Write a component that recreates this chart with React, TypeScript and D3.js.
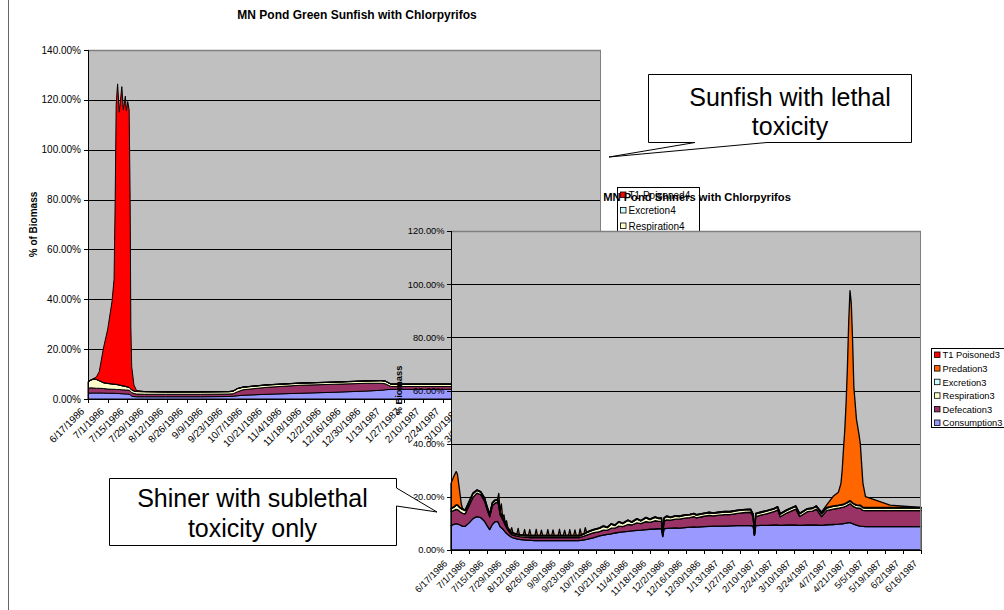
import React from 'react';
import * as d3 from 'd3';

const FONT = "'Liberation Sans', Arial, Helvetica, sans-serif";

const dateLabels = ['6/17/1986','7/1/1986','7/15/1986','7/29/1986','8/12/1986','8/26/1986','9/9/1986','9/23/1986','10/7/1986','10/21/1986','11/4/1986','11/18/1986','12/2/1986','12/16/1986','12/30/1986','1/13/1987','1/27/1987','2/10/1987','2/24/1987','3/10/1987','3/24/1987','4/7/1987','4/21/1987','5/5/1987','5/19/1987','6/2/1987','6/16/1987'];
const sunYTicks = [0, 20, 40, 60, 80, 100, 120, 140];
const shYTicks = [0, 20, 40, 60, 80, 100, 120];

// Sunfish (chart 1) — day offsets from 6/17/1986, values in % of biomass
const sunDays = [0,2,4,6,8,11,14,17,18.5,19.3,20,21,22.2,24,25.1,26.5,27.2,28.2,29.2,29.9,30.4,31,32.6,34.5,40,55,80,100,103,106,110,127,150,174,198,208,211,215,260,364];
const sunConsumption = [2.3,2.4,2.4,2.4,2.4,2.4,2.3,2.3,2.3,2.3,2.2,2.2,2.2,2.1,2.1,2.0,2.0,2.0,1.9,1.7,1.5,1.2,1.0,0.9,0.9,0.9,0.9,1.0,1.1,1.3,1.5,1.9,2.3,2.7,3.2,3.5,3.7,3.9,3.9,3.9];
const sunDefecation = [2.0,2.1,2.0,1.9,1.9,1.8,1.7,1.6,1.6,1.6,1.6,1.6,1.6,1.6,1.6,1.6,1.6,1.6,1.6,1.5,1.5,1.4,1.2,1.1,1.0,1.0,1.0,1.0,1.0,1.6,2.2,2.8,3.2,3.2,3.1,2.8,2.4,1.1,1.1,1.1];
const sunRespiration = [2.6,3.0,3.6,3.5,3.0,2.3,2.2,2.1,2.0,2.0,2.0,1.9,1.8,1.6,1.5,1.5,1.3,1.2,1.1,1.0,1.0,1.0,1.0,1.0,1.0,0.9,0.9,0.9,1.0,1.2,1.0,0.9,0.8,0.8,0.9,1.0,1.0,0.9,0.9,0.9];
const sunExcretion = [0.1,0.1,0.1,0.1,0.1,0.1,0.1,0.1,0.1,0.1,0.1,0.1,0.1,0.1,0.1,0.1,0.1,0.1,0.1,0.1,0.1,0.1,0.1,0.1,0.1,0.1,0.1,0.1,0.1,0.1,0.1,0.1,0.1,0.1,0.1,0.1,0.1,0.1,0.1,0.1];
const sunPoisoned = [0,0,0.1,1.0,3.6,13.9,21.7,32.9,42,74,112.1,120.6,109.3,119.9,110.7,116.3,110.5,114.4,111.3,75.7,24.9,9.3,2.3,0.3,0,0,0,0,0,0,0,0,0,0,0,0,0,0,0,0];

// Shiners (chart 2)
const shDays = [0,2,4,5,7,8,9,11,14,17,20,23,26,28,30,32,34,36,37,38,39,40,41,42,43,44,46,47,48,51,52,53,56,57,58,60,61,62,65,66,67,69,70,71,74,75,76,78,79,80,83,84,85,87,88,89,91,92,93,95,96,97,99,100,101,103,104,105,110,115,118,121,124,127,130,133,137,140,144,147,151,154,158,161,163,164,165,167,170,174,177,181,185,188,190,196,200,203,208,212,216,222,228,232,234,235,236,240,245,250,253,255,260,267,270,276,280,283,287,291,296,300,302,303,304,305,306,307,308,309,310,311,312,314,316,317,319,321,340,364];
const shConsumption = [9.2,9.6,9.9,9.8,9.4,9.2,9.0,8.9,10.2,11.8,12.6,12.2,10.8,9.2,7.7,9.6,10.6,10.8,10.0,8.8,8.4,8.0,7.4,6.8,6.3,5.8,5.1,4.8,4.6,4.2,4.1,4.0,3.8,3.8,3.7,3.7,3.6,3.6,3.5,3.5,3.5,3.5,3.5,3.5,3.5,3.5,3.5,3.5,3.5,3.5,3.5,3.5,3.5,3.5,3.5,3.5,3.5,3.5,3.5,3.5,3.5,3.5,3.5,3.6,3.6,3.8,3.9,4.0,4.6,5.3,5.6,5.9,6.1,6.4,6.6,6.8,7.0,7.2,7.4,7.5,7.7,7.8,7.9,8.0,8.0,5.0,8.0,8.1,8.2,8.3,8.2,8.4,8.6,8.7,8.6,8.8,8.9,9.0,9.0,9.0,9.1,9.2,9.2,9.2,9.0,5.5,9.2,9.3,9.3,9.4,9.4,9.3,9.4,9.4,9.3,9.4,9.4,9.4,9.3,9.5,9.6,9.7,9.8,9.8,9.9,10.0,10.1,10.2,10.3,10.3,10.1,9.9,9.7,9.4,9.1,9.0,8.9,8.8,8.8,8.8];
const shDefecation = [5.3,5.2,5.4,5.4,5.0,4.9,4.8,4.7,6.5,8.0,8.8,8.6,7.6,6.0,4.8,7.0,7.0,7.2,6.8,4.5,4.0,3.5,3.0,2.5,2.1,1.8,1.2,1.0,1.0,1.0,1.0,1.0,1.1,1.1,1.1,1.1,1.1,1.1,1.2,1.2,1.2,1.2,1.2,1.2,1.2,1.2,1.2,1.2,1.2,1.2,1.2,1.2,1.2,1.2,1.2,1.2,1.2,1.2,1.2,1.2,1.2,1.2,1.2,1.2,1.3,1.4,1.5,1.6,1.8,1.6,1.9,1.5,2.1,1.8,2.4,2.0,2.6,2.2,2.8,2.4,3.0,2.6,3.1,2.8,2.9,0.8,2.9,3.2,3.0,3.3,3.4,3.6,3.6,3.9,3.5,3.9,4.1,3.8,4.1,4.3,4.2,4.6,4.9,5.0,3.5,0.2,3.4,3.8,4.4,5.0,5.7,3.2,4.5,6.0,3.3,5.0,5.2,6.0,3.3,5.3,5.8,6.0,6.1,6.2,6.2,6.3,6.4,6.6,6.8,7.1,6.9,6.7,6.6,6.4,6.6,6.7,6.0,6.0,6.0,6.0];
const shRespiration = [1.0,1.2,1.5,1.6,1.4,1.4,1.5,1.2,1.3,1.4,1.0,1.0,1.0,0.9,0.8,1.0,1.0,0.8,0.8,0.7,0.7,0.6,0.6,0.6,0.6,0.6,0.6,0.6,0.6,0.6,0.6,0.6,0.6,0.6,0.6,0.6,0.6,0.6,0.6,0.6,0.6,0.6,0.6,0.6,0.6,0.6,0.6,0.6,0.6,0.6,0.6,0.6,0.6,0.6,0.6,0.6,0.6,0.6,0.6,0.6,0.6,0.6,0.6,0.6,0.7,0.8,0.8,0.9,1.1,1.2,1.4,1.0,1.5,1.0,1.5,1.1,1.5,1.0,1.4,1.0,1.4,1.0,1.3,1.0,1.0,0.3,1.0,1.3,1.0,1.1,1.0,1.0,1.0,1.0,1.0,1.0,1.0,1.0,1.0,1.0,1.0,1.0,1.0,1.0,0.8,0.1,1.0,1.0,1.0,1.0,1.0,1.0,1.0,1.0,1.0,1.0,1.0,1.0,1.0,1.0,1.0,1.0,1.0,1.0,1.0,1.0,1.0,1.0,1.0,1.0,1.0,1.0,1.0,1.0,1.0,1.0,1.0,1.0,1.0,1.0];
const shExcretion = [0.2,0.2,0.2,0.2,0.2,0.2,0.2,0.2,0.2,0.2,0.2,0.2,0.2,0.2,0.2,0.2,0.2,0.2,0.2,0.2,0.2,0.2,0.2,0.2,0.2,0.2,0.2,0.2,0.2,0.2,0.2,0.2,0.2,0.2,0.2,0.2,0.2,0.2,0.2,0.2,0.2,0.2,0.2,0.2,0.2,0.2,0.2,0.2,0.2,0.2,0.2,0.2,0.2,0.2,0.2,0.2,0.2,0.2,0.2,0.2,0.2,0.2,0.2,0.2,0.2,0.2,0.2,0.2,0.2,0.2,0.2,0.2,0.2,0.2,0.2,0.2,0.2,0.2,0.2,0.2,0.2,0.2,0.2,0.2,0.2,0.1,0.2,0.2,0.2,0.2,0.2,0.2,0.2,0.2,0.2,0.2,0.2,0.2,0.2,0.2,0.2,0.2,0.2,0.2,0.2,0.0,0.2,0.2,0.2,0.2,0.2,0.2,0.2,0.2,0.2,0.2,0.2,0.2,0.2,0.2,0.2,0.2,0.2,0.2,0.2,0.2,0.2,0.2,0.2,0.2,0.2,0.2,0.2,0.2,0.2,0.2,0.2,0.2,0.2,0.2];
const shPredation = [9.3,11.3,12.5,11.5,5.0,1.5,0,0,0,0,0,0,0,0,0,0,0,0,3.5,0,4.0,0,2.0,0,1.8,0,0,1.8,0,0,2.2,0,0,2.0,0,0,2.2,0,0,2.3,0,0,2.0,0,0,2.2,0,0,2.1,0,0,2.3,0,0,2.0,0,0,2.2,0,0,2.1,0,0,2.3,0,0,2.0,0,0,0,0,0,0,0,0,0,0,0,0,0,0,0,0,0,0,0,0,0,0,0,0,0,0,0,0,0,0,0,0,0,0,0,0,0,0,0,0,0,0,0,0,0,0,0,0,0,0,0,0.5,1.0,3.6,4.8,7.9,13.1,20.9,27.8,37.7,50.5,67.3,79.0,74.7,61.4,43.8,32.2,26.5,23.0,9.1,4.1,0.9,0,0,0];

const C = {
  poisoned: '#FF0000', predation: '#FF6600', excretion: '#CCFFFF',
  respiration: '#FFFFCC', defecation: '#993366', consumption: '#9999FF',
};

const sunLegend = [
  { label: 'T1 Poisoned4', color: C.poisoned },
  { label: 'Excretion4', color: C.excretion },
  { label: 'Respiration4', color: C.respiration },
  { label: 'Defecation4', color: C.defecation },
  { label: 'Consumption4', color: C.consumption },
];
const shLegend = [
  { label: 'T1 Poisoned3', color: C.poisoned },
  { label: 'Predation3', color: C.predation },
  { label: 'Excretion3', color: C.excretion },
  { label: 'Respiration3', color: C.respiration },
  { label: 'Defecation3', color: C.defecation },
  { label: 'Consumption3', color: C.consumption },
];

const parse = d3.timeParse('%m/%d/%Y');
const startDate = parse(dateLabels[0]) as Date;
const tickDays = dateLabels.map((l) => d3.timeDay.count(startDate, parse(l) as Date));

type Geo = { left: number; right: number; top: number; bottom: number; max: number };
type Layer = { key: string; values: number[]; color: string };

function AreaPlot(props: { g: Geo; days: number[]; layers: Layer[]; yTicks: number[]; fs: number; xlDy: number; ylRight: number; sw: number }) {
  const { g, days, layers, yTicks, fs, xlDy, ylRight, sw } = props;
  const x = d3.scaleLinear().domain([0, tickDays[tickDays.length - 1]]).range([g.left, g.right]);
  const y = d3.scaleLinear().domain([0, g.max]).range([g.bottom, g.top]);
  const rows = days.map((d, i) => {
    const r: any = { day: d };
    layers.forEach((l) => { r[l.key] = l.values[i]; });
    return r;
  });
  const stacked = d3.stack<any>().keys(layers.map((l) => l.key))(rows);
  const area = d3.area<any>().x((d: any) => x(d.data.day)).y0((d: any) => y(d[0])).y1((d: any) => y(d[1]));
  const py = (v: number) => Math.round(y(v)) + 0.5;
  return (
    <g>
      <rect x={g.left} y={g.top} width={g.right - g.left} height={g.bottom - g.top} fill="#C0C0C0" />
      {yTicks.filter((t) => t > 0 && t < g.max).map((t) => (
        <line key={'g' + t} x1={g.left} x2={g.right} y1={py(t)} y2={py(t)} stroke="#000" strokeWidth={1} />
      ))}
      {stacked.map((s, i) => (
        <path key={s.key} d={area(s as any) || ''} fill={layers[i].color} stroke="#000" strokeWidth={sw} strokeLinejoin="round" />
      ))}
      <line x1={g.left} x2={g.right} y1={g.top + 0.5} y2={g.top + 0.5} stroke="#808080" strokeWidth={1.5} />
      <line x1={g.right - 0.5} x2={g.right - 0.5} y1={g.top} y2={g.bottom} stroke="#808080" strokeWidth={1} />
      <line x1={g.left + 0.5} x2={g.left + 0.5} y1={g.top} y2={g.bottom} stroke="#000" strokeWidth={1} />
      <line x1={g.left} x2={g.right} y1={g.bottom + 0.5} y2={g.bottom + 0.5} stroke="#000" strokeWidth={1} />
      {yTicks.map((t) => (
        <g key={'y' + t}>
          <line x1={g.left - 4} x2={g.left} y1={py(t)} y2={py(t)} stroke="#000" />
          <text x={ylRight} y={y(t) + fs * 0.36} textAnchor="end" fontSize={fs} fontFamily={FONT} fill="#000">
            {t.toFixed(2) + '%'}
          </text>
        </g>
      ))}
      {tickDays.map((td, i) => (
        <g key={'x' + i}>
          <line x1={Math.round(x(td)) + 0.5} x2={Math.round(x(td)) + 0.5} y1={g.bottom} y2={g.bottom + 4} stroke="#000" />
          <text transform={`translate(${x(td) - 3},${g.bottom + xlDy}) rotate(-45)`} textAnchor="end" fontSize={fs} fontFamily={FONT} fill="#000">
            {dateLabels[i]}
          </text>
        </g>
      ))}
    </g>
  );
}

function Legend(props: { x: number; y: number; w: number; h: number; items: { label: string; color: string }[]; fs: number; step: number; first: number }) {
  const { x, y, w, h, items, fs, step, first } = props;
  return (
    <g>
      <rect x={x + 0.5} y={y + 0.5} width={w} height={h} fill="#fff" stroke="#000" strokeWidth={1} />
      {items.map((it, i) => {
        const cy = y + first + i * step;
        return (
          <g key={it.label}>
            <rect x={x + 3.5} y={cy - 3} width={5.5} height={5.5} fill={it.color} stroke="#000" strokeWidth={0.8} />
            <text x={x + 11.5} y={cy + fs * 0.36} fontSize={fs} fontFamily={FONT} fill="#000">{it.label}</text>
          </g>
        );
      })}
    </g>
  );
}

const SUN: Geo = { left: 88, right: 601, top: 50, bottom: 399, max: 140 };
const SH: Geo = { left: 451, right: 921, top: 231, bottom: 550, max: 120 };

export default function App() {
  const sunLayers: Layer[] = [
    { key: 'consumption', values: sunConsumption, color: C.consumption },
    { key: 'defecation', values: sunDefecation, color: C.defecation },
    { key: 'respiration', values: sunRespiration, color: C.respiration },
    { key: 'excretion', values: sunExcretion, color: C.excretion },
    { key: 'poisoned', values: sunPoisoned, color: C.poisoned },
  ];
  const shLayers: Layer[] = [
    { key: 'consumption', values: shConsumption, color: C.consumption },
    { key: 'defecation', values: shDefecation, color: C.defecation },
    { key: 'respiration', values: shRespiration, color: C.respiration },
    { key: 'excretion', values: shExcretion, color: C.excretion },
    { key: 'predation', values: shPredation, color: C.predation },
  ];
  return (
    <svg width={1004} height={610} style={{ position: 'absolute', left: 0, top: 0, background: '#fff' }}>
      <rect x={0} y={0} width={1004} height={610} fill="#fff" />
      <line x1={8.5} x2={8.5} y1={0} y2={610} stroke="#666" strokeWidth={1} />
      {/* Chart 1: Sunfish */}
      <text x={357} y={19} textAnchor="middle" fontSize={12} fontWeight="bold" fontFamily={FONT}>MN Pond Green Sunfish with Chlorpyrifos</text>
      <AreaPlot g={SUN} days={sunDays} layers={sunLayers} yTicks={sunYTicks} fs={10} xlDy={13} ylRight={81} sw={1} />
      <text transform={`translate(37,${(SUN.top + SUN.bottom) / 2}) rotate(-90)`} textAnchor="middle" fontSize={10} fontWeight="bold" fontFamily={FONT}>% of Biomass</text>
      <Legend x={617} y={187} w={82} h={82} items={sunLegend} fs={10} step={15.5} first={8} />
      {/* Chart 2: Shiners */}
      <AreaPlot g={SH} days={shDays} layers={shLayers} yTicks={shYTicks} fs={9.3} xlDy={14} ylRight={444.5} sw={1.3} />
      <text x={697} y={201} textAnchor="middle" fontSize={11.2} fontWeight="bold" fontFamily={FONT}>MN Pond Shiners with Chlorpyrifos</text>
      <text transform={`translate(402,${(SH.top + SH.bottom) / 2}) rotate(-90)`} textAnchor="middle" fontSize={9.3} fontWeight="bold" fontFamily={FONT}>% Biomass</text>
      <Legend x={931} y={348} w={100} h={79} items={shLegend} fs={9.3} step={13.6} first={7} />
      {/* Callouts */}
      <path d="M648.5,74.5 H911.5 V142.5 H767 L609,157 L695,142.5 H648.5 Z" fill="#fff" stroke="#000" strokeWidth={1} />
      <text x={790} y={106} textAnchor="middle" fontSize={25} fontFamily={FONT}>Sunfish with lethal</text>
      <text x={790} y={135} textAnchor="middle" fontSize={25} fontFamily={FONT}>toxicity</text>
      <path d="M109.5,478.5 H396.5 V488 L437,512 L396.5,506 V545.5 H109.5 Z" fill="#fff" stroke="#000" strokeWidth={1} />
      <text x={252.5} y={507} textAnchor="middle" fontSize={25} fontFamily={FONT}>Shiner with sublethal</text>
      <text x={252.5} y={537} textAnchor="middle" fontSize={25} fontFamily={FONT}>toxicity only</text>
    </svg>
  );
}
